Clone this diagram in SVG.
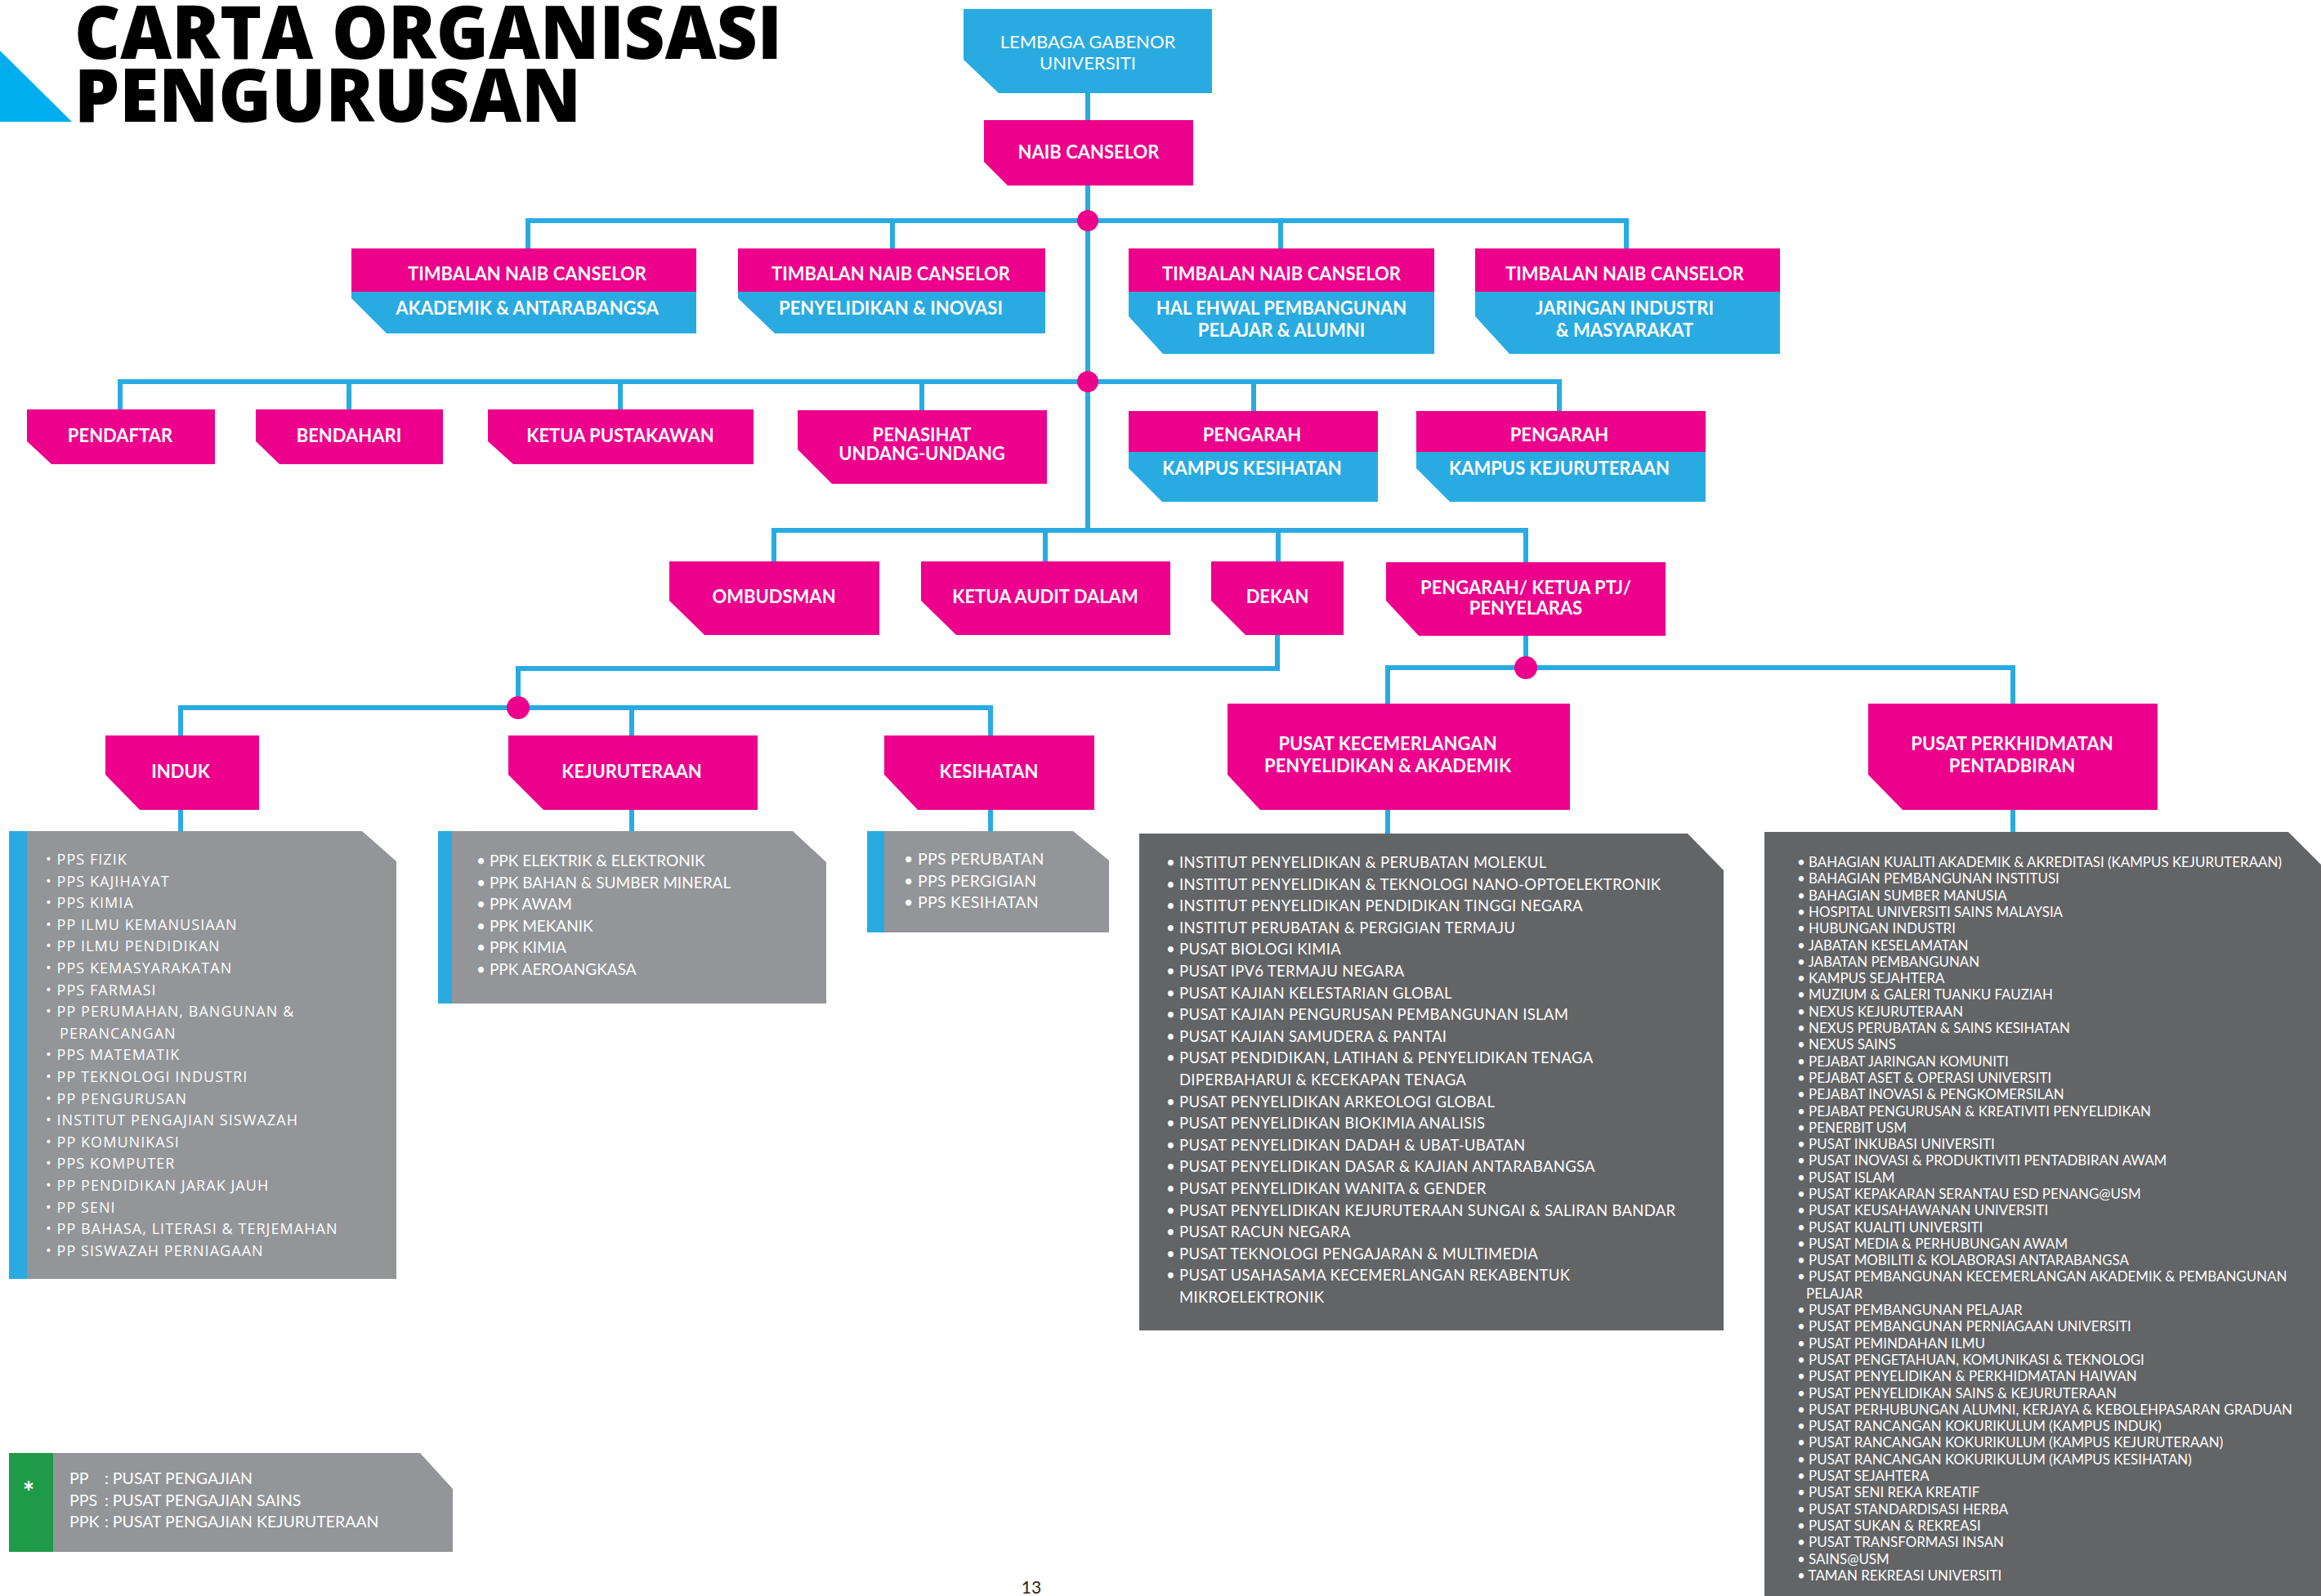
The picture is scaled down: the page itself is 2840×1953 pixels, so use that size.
<svg xmlns="http://www.w3.org/2000/svg" width="2840" height="1953" viewBox="0 0 2840 1953">
<style>
.pk{fill:#ec008c}
.bl{fill:#29abe2}
.lg{fill:#939598}
.dg{fill:#636466}
.gr{fill:#1f9a48}
.nt{font-family:Lato,"Liberation Sans",sans-serif;font-size:22px;font-weight:bold;fill:#ffffff;text-anchor:middle}
.nr{font-family:Lato,"Liberation Sans",sans-serif;font-size:22px;fill:#ffffff;text-anchor:middle}
.c{stroke:#29abe2;stroke-width:6;fill:none}
.dot{fill:#ec008c}
.li{font-family:Lato,"Liberation Sans",sans-serif;fill:#ffffff}
.lo{font-family:"Open Sans","Liberation Sans",sans-serif;font-size:18px;letter-spacing:1.05px;fill:#ffffff}
</style>
<rect width="2840" height="1953" fill="#ffffff"/>
<g id="title">
<polygon points="0,62 88,149 0,149" fill="#00aeef"/>
<text x="91" y="72" font-family="'Open Sans','Liberation Sans',sans-serif" font-weight="800" font-size="90" textLength="866" lengthAdjust="spacingAndGlyphs" fill="#000">CARTA ORGANISASI</text>
<text x="91" y="149" font-family="'Open Sans','Liberation Sans',sans-serif" font-weight="800" font-size="90" textLength="620" lengthAdjust="spacingAndGlyphs" fill="#000">PENGURUSAN</text>
</g>
<g id="connectors">
<path class="c" d="M1331,114 V649"/>
<path class="c" d="M646,304 V270 H1990 V304 M1092,270 V304 M1567,270 V304"/>
<path class="c" d="M147,501 V467 H1908 V503 M427,467 V501 M759,467 V501 M1128,467 V502 M1534,467 V503"/>
<path class="c" d="M947,687 V649 H1867 V688 M1279,649 V687 M1564,649 V687"/>
<path class="c" d="M1563,777 V818 H634 V866 M221,900 V866 H1212 V900 M773,866 V900"/>
<path class="c" d="M221,991 V1017 M773,991 V1017 M1212,991 V1017"/>
<path class="c" d="M1867,778 V817 M1698,861 V817 H2463 V861 M1698,991 V1020 M2463,991 V1018"/>
<circle class="dot" cx="1331" cy="270" r="13"/>
<circle class="dot" cx="1331" cy="467" r="13"/>
<circle class="dot" cx="634" cy="866" r="14"/>
<circle class="dot" cx="1867" cy="817" r="14"/>
</g>
<g id="lembaga">
<path class="bl" d="M1179,11 H1483 V114 H1222 L1179,73 Z"/>
<text class="nr" x="1331" y="59">LEMBAGA GABENOR</text>
<text class="nr" x="1331" y="85">UNIVERSITI</text>
</g>
<g id="naib">
<path class="pk" d="M1204,147 H1460 V227 H1233 L1204,198 Z"/>
<text class="nt" x="1332" y="194">NAIB CANSELOR</text>
</g>
<g id="tnc1">
<rect class="pk" x="430" y="304" width="422" height="53"/>
<path class="bl" d="M430,357 H852 V408 H473 L430,365 Z"/>
<text class="nt" x="645" y="343">TIMBALAN NAIB CANSELOR</text>
<text class="nt" x="645" y="385">AKADEMIK &amp; ANTARABANGSA</text>
</g>
<g id="tnc2">
<rect class="pk" x="903" y="304" width="376" height="53"/>
<path class="bl" d="M903,357 H1279 V408 H948 L903,365 Z"/>
<text class="nt" x="1090" y="343">TIMBALAN NAIB CANSELOR</text>
<text class="nt" x="1090" y="385">PENYELIDIKAN &amp; INOVASI</text>
</g>
<g id="tnc3">
<rect class="pk" x="1381" y="304" width="374" height="53"/>
<path class="bl" d="M1381,357 H1755 V433 H1423 L1381,387 Z"/>
<text class="nt" x="1568" y="343">TIMBALAN NAIB CANSELOR</text>
<text class="nt" x="1568" y="385">HAL EHWAL PEMBANGUNAN</text>
<text class="nt" x="1568" y="412">PELAJAR &amp; ALUMNI</text>
</g>
<g id="tnc4">
<rect class="pk" x="1805" y="304" width="373" height="53"/>
<path class="bl" d="M1805,357 H2178 V433 H1847 L1805,387 Z"/>
<text class="nt" x="1988" y="343">TIMBALAN NAIB CANSELOR</text>
<text class="nt" x="1988" y="385">JARINGAN INDUSTRI</text>
<text class="nt" x="1988" y="412">&amp; MASYARAKAT</text>
</g>
<g id="pendaftar">
<path class="pk" d="M33,501 H263 V568 H63 L33,540 Z"/>
<text class="nt" x="147" y="541">PENDAFTAR</text>
</g>
<g id="bendahari">
<path class="pk" d="M313,501 H542 V568 H342 L313,540 Z"/>
<text class="nt" x="427" y="541">BENDAHARI</text>
</g>
<g id="pustakawan">
<path class="pk" d="M597,501 H922 V568 H628 L597,540 Z"/>
<text class="nt" x="759" y="541">KETUA PUSTAKAWAN</text>
</g>
<g id="penasihat">
<path class="pk" d="M976,502 H1281 V592 H1018 L976,550 Z"/>
<text class="nt" x="1128" y="540">PENASIHAT</text>
<text class="nt" x="1128" y="563">UNDANG-UNDANG</text>
</g>
<g id="pengarah-kesihatan">
<rect class="pk" x="1381" y="503" width="305" height="50"/>
<path class="bl" d="M1381,553 H1686 V614 H1422 L1381,573 Z"/>
<text class="nt" x="1532" y="540">PENGARAH</text>
<text class="nt" x="1532" y="581">KAMPUS KESIHATAN</text>
</g>
<g id="pengarah-kejuruteraan">
<rect class="pk" x="1733" y="503" width="354" height="50"/>
<path class="bl" d="M1733,553 H2087 V614 H1774 L1733,573 Z"/>
<text class="nt" x="1908" y="540">PENGARAH</text>
<text class="nt" x="1908" y="581">KAMPUS KEJURUTERAAN</text>
</g>
<g id="ombudsman">
<path class="pk" d="M819,687 H1076 V777 H862 L819,735 Z"/>
<text class="nt" x="947" y="738">OMBUDSMAN</text>
</g>
<g id="audit">
<path class="pk" d="M1127,687 H1432 V777 H1170 L1127,735 Z"/>
<text class="nt" x="1279" y="738">KETUA AUDIT DALAM</text>
</g>
<g id="dekan">
<path class="pk" d="M1482,687 H1644 V777 H1524 L1482,735 Z"/>
<text class="nt" x="1563" y="738">DEKAN</text>
</g>
<g id="pengarah-ptj">
<path class="pk" d="M1696,688 H2038 V778 H1736 L1696,735 Z"/>
<text class="nt" x="1867" y="727">PENGARAH/ KETUA PTJ/</text>
<text class="nt" x="1867" y="752">PENYELARAS</text>
</g>
<g id="induk">
<path class="pk" d="M129,900 H317 V991 H171 L129,948 Z"/>
<text class="nt" x="221" y="952">INDUK</text>
</g>
<g id="kejuruteraan">
<path class="pk" d="M622,900 H927 V991 H665 L622,948 Z"/>
<text class="nt" x="773" y="952">KEJURUTERAAN</text>
</g>
<g id="kesihatan">
<path class="pk" d="M1082,900 H1339 V991 H1123 L1082,948 Z"/>
<text class="nt" x="1210" y="952">KESIHATAN</text>
</g>
<g id="pusat-kecemerlangan">
<path class="pk" d="M1502,861 H1921 V991 H1542 L1502,948 Z"/>
<text class="nt" x="1698" y="918">PUSAT KECEMERLANGAN</text>
<text class="nt" x="1698" y="945">PENYELIDIKAN &amp; AKADEMIK</text>
</g>
<g id="pusat-perkhidmatan">
<path class="pk" d="M2286,861 H2640 V991 H2328 L2286,948 Z"/>
<text class="nt" x="2462" y="918">PUSAT PERKHIDMATAN</text>
<text class="nt" x="2462" y="945">PENTADBIRAN</text>
</g>
<g id="list-induk">
<path class="lg" d="M11,1017 H443 L485,1054 V1565 H11 Z"/>
<rect class="bl" x="11" y="1017" width="22" height="548"/>
<text class="lo" y="1058">
<tspan x="56">• PPS FIZIK</tspan>
<tspan x="56" dy="26.6">• PPS KAJIHAYAT</tspan>
<tspan x="56" dy="26.6">• PPS KIMIA</tspan>
<tspan x="56" dy="26.6">• PP ILMU KEMANUSIAAN</tspan>
<tspan x="56" dy="26.6">• PP ILMU PENDIDIKAN</tspan>
<tspan x="56" dy="26.6">• PPS KEMASYARAKATAN</tspan>
<tspan x="56" dy="26.6">• PPS FARMASI</tspan>
<tspan x="56" dy="26.6">• PP PERUMAHAN, BANGUNAN &amp;</tspan>
<tspan x="73" dy="26.6">PERANCANGAN</tspan>
<tspan x="56" dy="26.6">• PPS MATEMATIK</tspan>
<tspan x="56" dy="26.6">• PP TEKNOLOGI INDUSTRI</tspan>
<tspan x="56" dy="26.6">• PP PENGURUSAN</tspan>
<tspan x="56" dy="26.6">• INSTITUT PENGAJIAN SISWAZAH</tspan>
<tspan x="56" dy="26.6">• PP KOMUNIKASI</tspan>
<tspan x="56" dy="26.6">• PPS KOMPUTER</tspan>
<tspan x="56" dy="26.6">• PP PENDIDIKAN JARAK JAUH</tspan>
<tspan x="56" dy="26.6">• PP SENI</tspan>
<tspan x="56" dy="26.6">• PP BAHASA, LITERASI &amp; TERJEMAHAN</tspan>
<tspan x="56" dy="26.6">• PP SISWAZAH PERNIAGAAN</tspan>
</text>
</g>
<g id="list-kejuruteraan">
<path class="lg" d="M536,1017 H970 L1011,1055 V1228 H536 Z"/>
<rect class="bl" x="536" y="1017" width="17" height="211"/>
<text class="li" font-size="19" y="1060">
<tspan x="583">• PPK ELEKTRIK &amp; ELEKTRONIK</tspan>
<tspan x="583" dy="26.5">• PPK BAHAN &amp; SUMBER MINERAL</tspan>
<tspan x="583" dy="26.5">• PPK AWAM</tspan>
<tspan x="583" dy="26.5">• PPK MEKANIK</tspan>
<tspan x="583" dy="26.5">• PPK KIMIA</tspan>
<tspan x="583" dy="26.5">• PPK AEROANGKASA</tspan>
</text>
</g>
<g id="list-kesihatan">
<path class="lg" d="M1061,1017 H1313 L1357,1053 V1141 H1061 Z"/>
<rect class="bl" x="1061" y="1017" width="21" height="124"/>
<text class="li" font-size="19.5" letter-spacing="0.3" y="1058">
<tspan x="1106">• PPS PERUBATAN</tspan>
<tspan x="1106" dy="26.5">• PPS PERGIGIAN</tspan>
<tspan x="1106" dy="26.5">• PPS KESIHATAN</tspan>
</text>
</g>
<g id="list-pusat-kecemerlangan">
<path class="dg" d="M1394,1020 H2065 L2109,1065 V1628 H1394 Z"/>
<text class="li" font-size="18.5" letter-spacing="0.3" y="1062">
<tspan x="1427">• INSTITUT PENYELIDIKAN &amp; PERUBATAN MOLEKUL</tspan>
<tspan x="1427" dy="26.6">• INSTITUT PENYELIDIKAN &amp; TEKNOLOGI NANO-OPTOELEKTRONIK</tspan>
<tspan x="1427" dy="26.6">• INSTITUT PENYELIDIKAN PENDIDIKAN TINGGI NEGARA</tspan>
<tspan x="1427" dy="26.6">• INSTITUT PERUBATAN &amp; PERGIGIAN TERMAJU</tspan>
<tspan x="1427" dy="26.6">• PUSAT BIOLOGI KIMIA</tspan>
<tspan x="1427" dy="26.6">• PUSAT IPV6 TERMAJU NEGARA</tspan>
<tspan x="1427" dy="26.6">• PUSAT KAJIAN KELESTARIAN GLOBAL</tspan>
<tspan x="1427" dy="26.6">• PUSAT KAJIAN PENGURUSAN PEMBANGUNAN ISLAM</tspan>
<tspan x="1427" dy="26.6">• PUSAT KAJIAN SAMUDERA &amp; PANTAI</tspan>
<tspan x="1427" dy="26.6">• PUSAT PENDIDIKAN, LATIHAN &amp; PENYELIDIKAN TENAGA</tspan>
<tspan x="1443" dy="26.6">DIPERBAHARUI &amp; KECEKAPAN TENAGA</tspan>
<tspan x="1427" dy="26.6">• PUSAT PENYELIDIKAN ARKEOLOGI GLOBAL</tspan>
<tspan x="1427" dy="26.6">• PUSAT PENYELIDIKAN BIOKIMIA  ANALISIS</tspan>
<tspan x="1427" dy="26.6">• PUSAT PENYELIDIKAN DADAH &amp; UBAT-UBATAN</tspan>
<tspan x="1427" dy="26.6">• PUSAT PENYELIDIKAN DASAR &amp; KAJIAN ANTARABANGSA</tspan>
<tspan x="1427" dy="26.6">• PUSAT PENYELIDIKAN WANITA &amp; GENDER</tspan>
<tspan x="1427" dy="26.6">• PUSAT PENYELIDIKAN KEJURUTERAAN SUNGAI &amp; SALIRAN BANDAR</tspan>
<tspan x="1427" dy="26.6">• PUSAT RACUN NEGARA</tspan>
<tspan x="1427" dy="26.6">• PUSAT TEKNOLOGI PENGAJARAN &amp; MULTIMEDIA</tspan>
<tspan x="1427" dy="26.6">• PUSAT USAHASAMA KECEMERLANGAN REKABENTUK</tspan>
<tspan x="1443" dy="26.6">MIKROELEKTRONIK</tspan>
</text>
</g>
<g id="list-pusat-perkhidmatan">
<path class="dg" d="M2159,1018 H2800 L2840,1058 V1953 H2159 Z"/>
<text class="li" font-size="16.9" y="1061">
<tspan x="2199">• BAHAGIAN KUALITI AKADEMIK &amp; AKREDITASI (KAMPUS KEJURUTERAAN)</tspan>
<tspan x="2199" dy="20.3">• BAHAGIAN PEMBANGUNAN INSTITUSI</tspan>
<tspan x="2199" dy="20.3">• BAHAGIAN SUMBER MANUSIA</tspan>
<tspan x="2199" dy="20.3">• HOSPITAL UNIVERSITI SAINS MALAYSIA</tspan>
<tspan x="2199" dy="20.3">• HUBUNGAN INDUSTRI</tspan>
<tspan x="2199" dy="20.3">• JABATAN KESELAMATAN</tspan>
<tspan x="2199" dy="20.3">• JABATAN PEMBANGUNAN</tspan>
<tspan x="2199" dy="20.3">• KAMPUS SEJAHTERA</tspan>
<tspan x="2199" dy="20.3">• MUZIUM &amp; GALERI TUANKU FAUZIAH</tspan>
<tspan x="2199" dy="20.3">• NEXUS KEJURUTERAAN</tspan>
<tspan x="2199" dy="20.3">• NEXUS PERUBATAN &amp; SAINS KESIHATAN</tspan>
<tspan x="2199" dy="20.3">• NEXUS SAINS</tspan>
<tspan x="2199" dy="20.3">• PEJABAT JARINGAN KOMUNITI</tspan>
<tspan x="2199" dy="20.3">• PEJABAT ASET &amp; OPERASI UNIVERSITI</tspan>
<tspan x="2199" dy="20.3">• PEJABAT INOVASI &amp; PENGKOMERSILAN</tspan>
<tspan x="2199" dy="20.3">• PEJABAT PENGURUSAN &amp; KREATIVITI PENYELIDIKAN</tspan>
<tspan x="2199" dy="20.3">• PENERBIT USM</tspan>
<tspan x="2199" dy="20.3">• PUSAT INKUBASI UNIVERSITI</tspan>
<tspan x="2199" dy="20.3">• PUSAT INOVASI &amp; PRODUKTIVITI PENTADBIRAN AWAM</tspan>
<tspan x="2199" dy="20.3">• PUSAT ISLAM</tspan>
<tspan x="2199" dy="20.3">• PUSAT KEPAKARAN SERANTAU ESD PENANG@USM</tspan>
<tspan x="2199" dy="20.3">• PUSAT KEUSAHAWANAN UNIVERSITI</tspan>
<tspan x="2199" dy="20.3">• PUSAT KUALITI UNIVERSITI</tspan>
<tspan x="2199" dy="20.3">• PUSAT MEDIA &amp; PERHUBUNGAN AWAM</tspan>
<tspan x="2199" dy="20.3">• PUSAT MOBILITI &amp; KOLABORASI ANTARABANGSA</tspan>
<tspan x="2199" dy="20.3">• PUSAT PEMBANGUNAN KECEMERLANGAN AKADEMIK &amp; PEMBANGUNAN</tspan>
<tspan x="2210" dy="20.3">PELAJAR</tspan>
<tspan x="2199" dy="20.3">• PUSAT PEMBANGUNAN PELAJAR</tspan>
<tspan x="2199" dy="20.3">• PUSAT PEMBANGUNAN PERNIAGAAN UNIVERSITI</tspan>
<tspan x="2199" dy="20.3">• PUSAT PEMINDAHAN ILMU</tspan>
<tspan x="2199" dy="20.3">• PUSAT PENGETAHUAN, KOMUNIKASI &amp; TEKNOLOGI</tspan>
<tspan x="2199" dy="20.3">• PUSAT PENYELIDIKAN &amp; PERKHIDMATAN HAIWAN</tspan>
<tspan x="2199" dy="20.3">• PUSAT PENYELIDIKAN SAINS &amp; KEJURUTERAAN</tspan>
<tspan x="2199" dy="20.3">• PUSAT PERHUBUNGAN ALUMNI, KERJAYA &amp; KEBOLEHPASARAN GRADUAN</tspan>
<tspan x="2199" dy="20.3">• PUSAT RANCANGAN KOKURIKULUM (KAMPUS INDUK)</tspan>
<tspan x="2199" dy="20.3">• PUSAT RANCANGAN KOKURIKULUM (KAMPUS KEJURUTERAAN)</tspan>
<tspan x="2199" dy="20.3">• PUSAT RANCANGAN KOKURIKULUM (KAMPUS KESIHATAN)</tspan>
<tspan x="2199" dy="20.3">• PUSAT SEJAHTERA</tspan>
<tspan x="2199" dy="20.3">• PUSAT SENI REKA KREATIF</tspan>
<tspan x="2199" dy="20.3">• PUSAT STANDARDISASI HERBA</tspan>
<tspan x="2199" dy="20.3">• PUSAT SUKAN &amp; REKREASI</tspan>
<tspan x="2199" dy="20.3">• PUSAT TRANSFORMASI INSAN</tspan>
<tspan x="2199" dy="20.3">• SAINS@USM</tspan>
<tspan x="2199" dy="20.3">• TAMAN REKREASI UNIVERSITI</tspan>
</text>
</g>
<g id="legend">
<path class="lg" d="M11,1778 H514 L554,1822 V1899 H11 Z"/>
<rect class="gr" x="11" y="1778" width="54" height="121"/>
<text x="35" y="1838" font-family="Lato,'Liberation Sans',sans-serif" font-size="34" font-weight="bold" fill="#ffffff" text-anchor="middle">*</text>
<text class="li" font-size="19.5">
<tspan x="85" y="1816">PP</tspan><tspan x="128" y="1816">: PUSAT PENGAJIAN</tspan>
<tspan x="85" y="1843">PPS</tspan><tspan x="128" y="1843">: PUSAT PENGAJIAN SAINS</tspan>
<tspan x="85" y="1869">PPK</tspan><tspan x="128" y="1869">: PUSAT PENGAJIAN KEJURUTERAAN</tspan>
</text>
</g>
<text id="page-number" x="1262" y="1950" font-family="Lato,'Liberation Sans',sans-serif" font-size="21" fill="#231f20" text-anchor="middle">13</text>
</svg>
